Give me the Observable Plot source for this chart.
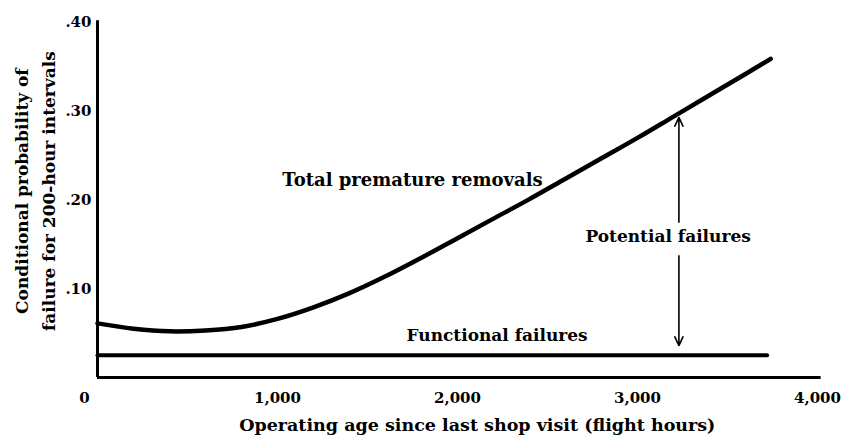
<!DOCTYPE html>
<html><head><meta charset="utf-8">
<script src="https://cdn.jsdelivr.net/npm/d3@7"></script>
<script src="https://cdn.jsdelivr.net/npm/@observablehq/plot@0.6"></script>
<style>body{margin:0;background:#fff} svg{display:block}</style>
</head><body><div id="chart"></div>
<script>
// Operating age (flight hours) and conditional probability of failure
const ages = [0, 200, 400, 600, 800, 1000, 1200, 1400, 1600, 1800, 2000, 2200, 2400, 2600, 2800, 3000, 3200, 3400, 3600, 3740];
const totalRemovals = [0.061, 0.055, 0.052, 0.053, 0.057, 0.066, 0.079, 0.095, 0.114, 0.135, 0.157, 0.179, 0.201, 0.224, 0.247, 0.270, 0.294, 0.318, 0.342, 0.359];
const functionalAges = [0, 3720];
const functionalFailures = [0.025, 0.025];
const xTicks = [0, 1000, 2000, 3000, 4000];
const xTickLabels = ["0", "1,000", "2,000", "3,000", "4,000"];
const yTicks = [0.10, 0.20, 0.30, 0.40];
const yTickLabels = [".10", ".20", ".30", ".40"];
const arrowAge = 3230;
const arrowUp = [0.175, 0.293];
const arrowDown = [0.137, 0.036];
const seriesLabels = ["Total premature removals", "Potential failures", "Functional failures"];
const seriesLabelAges = [1750, 3170, 2220];
const seriesLabelValues = [0.222, 0.159, 0.047];
const seriesLabelSizes = [18, 17, 17];
const xTitle = "Operating age since last shop visit (flight hours)";
const yTitle = "Conditional probability of\nfailure for 200-hour intervals";

const totalData = ages.map((a, i) => ({age: a, p: totalRemovals[i]}));
const funcData = functionalAges.map((a, i) => ({age: a, p: functionalFailures[i]}));
const xTickData = xTicks.map((v, i) => ({v, label: xTickLabels[i]}));
const yTickData = yTicks.map((v, i) => ({v, label: yTickLabels[i]}));
const labelData = seriesLabels.map((t, i) => ({t, age: seriesLabelAges[i], p: seriesLabelValues[i], size: seriesLabelSizes[i]}));
const arrows = [
  {x1: arrowAge, y1: arrowUp[0], x2: arrowAge, y2: arrowUp[1]},
  {x1: arrowAge, y1: arrowDown[0], x2: arrowAge, y2: arrowDown[1]}
];

const chart = Plot.plot({
  width: 844, height: 444,
  marginLeft: 97, marginRight: 27, marginTop: 22, marginBottom: 67,
  x: {domain: [0, 4000], axis: null},
  y: {domain: [0, 0.4], axis: null},
  style: {fontFamily: "'DejaVu Serif', serif", fontSize: "16px", color: "#000", background: "#fff"},
  marks: [
    Plot.ruleY([{y: 0, a: 0, b: 4020}], {y: "y", x1: "a", x2: "b", stroke: "#000", strokeWidth: 3}),
    Plot.ruleX([{x: 0, a: 0, b: 0.402}], {x: "x", y1: "a", y2: "b", stroke: "#000", strokeWidth: 3}),
    Plot.line(funcData, {x: "age", y: "p", stroke: "#000", strokeWidth: 4, strokeLinecap: "round"}),
    Plot.line(totalData, {x: "age", y: "p", curve: "catmull-rom", stroke: "#000", strokeWidth: 4.5, strokeLinecap: "round"}),
    Plot.arrow(arrows, {x1: "x1", y1: "y1", x2: "x2", y2: "y2", stroke: "#000", strokeWidth: 1.6, headLength: 9, headAngle: 50}),
    Plot.text(xTickData.filter(d => d.v === 0), {x: "v", y: () => 0, text: "label", dy: 21, dx: -13, fontWeight: "bold", fontSize: 15}),
    Plot.text(xTickData.filter(d => d.v !== 0), {x: "v", y: () => 0, text: "label", dy: 21, fontWeight: "bold", fontSize: 15}),
    Plot.text(yTickData, {x: () => 0, y: "v", text: "label", dx: -6, textAnchor: "end", fontWeight: "bold", fontSize: 15}),
    ...labelData.map(d => Plot.text([d], {x: "age", y: "p", text: "t", fontWeight: "bold", fontSize: d.size})),
    Plot.text([xTitle], {x: () => 2110, y: () => 0, text: d => d, dy: 48, fontWeight: "bold", fontSize: 17.5}),
    Plot.text([yTitle], {frameAnchor: "left", y: () => 0.21, text: d => d, dx: -65, rotate: -90, textAnchor: "middle", lineHeight: 1.6, fontWeight: "bold", fontSize: 17})
  ]
});
document.getElementById("chart").append(chart);
</script>
</body></html>
